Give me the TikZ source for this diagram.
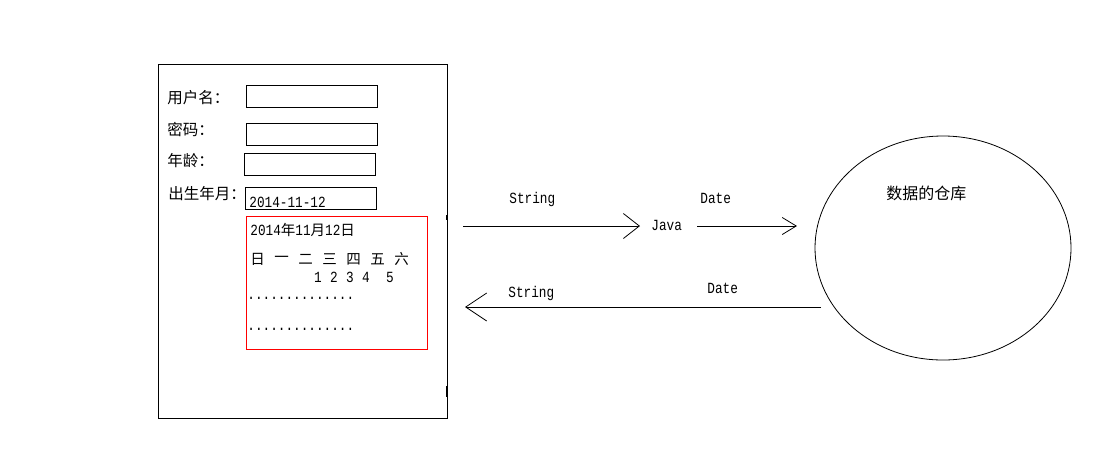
\documentclass[tikz,border=0pt]{standalone}
\usepackage{fontspec}
\newfontfamily\cjk{Noto Sans CJK SC}
\newfontfamily\mono[FakeStretch=0.82]{Liberation Mono}
\usetikzlibrary{arrows.meta,shapes.geometric}
\begin{document}
\begin{tikzpicture}[x=1pt,y=-1pt,line width=0.8pt,
  fieldbox/.style={draw,minimum width=131pt,minimum height=22pt,anchor=north west,inner sep=0pt},
  cjklab/.style={inner sep=0pt,anchor=west,font=\cjk\fontsize{15.5}{16}\selectfont},
  cjksm/.style={inner sep=0pt,font=\cjk\fontsize{14.5}{15}\selectfont},
  monolab/.style={inner sep=0pt,anchor=base west,font=\mono\fontsize{15.5}{15.5}\selectfont},
  conn/.style={line width=0.8pt}]
\useasboundingbox (0,0) rectangle (1113,451);
\fill[white] (0,0) rectangle (1113,451);
% panel
\node[draw,anchor=north west,minimum width=289pt,minimum height=354pt,inner sep=0pt] (panel) at (158,64) {};
\draw[line width=1.8pt] (447,215) -- (447,220);
\draw[line width=1.8pt] (447,386) -- (447,397);
% form
\node[cjklab] (l1) at (167,98) {用户名：};
\node[fieldbox] (f1) at (246,85) {};
\node[cjklab] (l2) at (167,130) {密码：};
\node[fieldbox] (f2) at (246,123) {};
\node[cjklab] (l3) at (167,161) {年龄：};
\node[fieldbox] (f3) at (244,153) {};
\node[cjklab] (l4) at (168,194) {出生年月：};
\node[fieldbox] (f4) at (245,187) {};
\node[monolab] (d4) at (249,207) {2014-11-12};
% calendar
\node[draw=red,anchor=north west,minimum width=181pt,minimum height=133pt,inner sep=0pt] (cal) at (246,216) {};
\node[monolab] (cd) at (250,235) {2014{\cjk\fontsize{14.5}{15}\selectfont 年}11{\cjk\fontsize{14.5}{15}\selectfont 月}12{\cjk\fontsize{14.5}{15}\selectfont 日}};
\foreach \c [count=\i from 0] in {日,一,二,三,四,五,六}
  \node[cjksm] (w\i) at ({257.5+24*\i},259) {\c};
\foreach \n/\x in {1/318,2/334,3/350,4/366,5/390}
  \node[inner sep=0pt,anchor=base,font=\mono\fontsize{15.5}{15.5}\selectfont] (n\n) at (\x,282) {\n};
\node[monolab] (dots1) at (247,299) {..............};
\node[monolab] (dots2) at (247,330) {..............};
% database
\node[draw,ellipse,minimum width=256pt,minimum height=224pt,inner sep=0pt] (db) at (943,248) {};
\node[cjklab,font=\cjk\fontsize{16}{16}\selectfont] (dbl) at (886,193) {数据的仓库};
% arrows
\coordinate (a1s) at (463,226);
\coordinate (a1e) at (640,226);
\coordinate (a2s) at (697,226);
\coordinate (a2e) at (797,226);
\coordinate (a3s) at (821,307);
\coordinate (a3e) at (465,307);
\draw[conn,-{Straight Barb[length=16pt,width=25pt,line width=0.8pt]}] (a1s) -- (a1e);
\draw[conn,-{Straight Barb[length=14pt,width=17pt,line width=0.8pt]}] (a2s) -- (a2e);
\draw[conn,-{Straight Barb[length=21pt,width=28pt,line width=0.8pt]}] (a3s) -- (a3e);
\node[monolab] (s1) at (509,203) {String};
\node[monolab] (dt1) at (700,203) {Date};
\node[monolab] (jv) at (651,230) {Java};
\node[monolab] (s2) at (508,297) {String};
\node[monolab] (dt2) at (707,293) {Date};
\end{tikzpicture}
\end{document}
